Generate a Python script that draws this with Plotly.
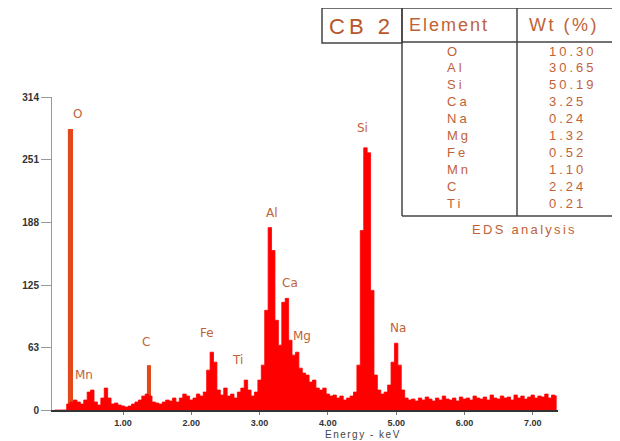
import plotly.graph_objects as go

# EDS spectrum, counts per 0.05 keV channel
CHANNEL_KEV = 0.05
counts = [
    0, 0, 0, 0,
    6, 8, 10, 8, 6, 10,
    18, 20, 8, 5, 12, 22, 12, 6, 7, 5,
    4, 3, 4, 6, 8, 10, 14, 16, 14, 8,
    7, 6, 8, 10, 9, 12, 8, 12, 16, 14,
    10, 12, 16, 14, 18, 40, 58, 48, 20, 15,
    22, 14, 16, 12, 18, 22, 30, 20, 14, 18,
    30, 45, 100, 183, 160, 90, 65, 108, 112, 70,
    55, 58, 42, 37, 35, 28, 30, 22, 20, 22,
    16, 14, 15, 12, 14, 10, 12, 14, 18, 45,
    180, 263, 258, 120, 35, 20, 16, 18, 25, 48,
    67, 45, 20, 12, 10, 11, 9, 12, 10, 13,
    11, 9, 12, 10, 14, 11, 10, 12, 9, 13,
    11, 12, 10, 14, 12, 11, 13, 10, 15, 12,
    11, 14, 12, 13, 10, 15, 12, 14, 11, 13,
    15, 12, 14, 13, 16, 12, 15, 14,
]
energy = [round(i * CHANNEL_KEV, 2) for i in range(len(counts))]

# single lines drawn in orange
line_energy = [0.23, 1.38]
line_counts = [282, 45]

# peak labels
peak_names = ["O", "Mn", "C", "Fe", "Ti", "Al", "Ca", "Mg", "Si", "Na"]
peak_label_kev = [0.33, 0.43, 1.34, 2.23, 2.68, 3.18, 3.44, 3.62, 4.50, 5.03]
peak_label_cts = [297, 35, 68, 77, 50, 198, 127, 74, 283, 82]

# composition table
sample_name = "CB 2"
table_elements = ["O", "Al", "Si", "Ca", "Na", "Mg", "Fe", "Mn", "C", "Ti"]
table_wt = ["10.30", "30.65", "50.19", "3.25", "0.24", "1.32", "0.52", "1.10", "2.24", "0.21"]

y_ticks = [0, 63, 125, 188, 251, 314]
x_ticks = [1, 2, 3, 4, 5, 6, 7]
x_ticktext = ["1.00", "2.00", "3.00", "4.00", "5.00", "6.00", "7.00"]

RED = "#ff0000"
ORANGE = "#e2481a"
BROWN = "#bf6238"
BORDER = "#444444"

# plot area in screen pixels (page has an 8px body margin)
OFF = 8
PL, PR, PT, PB = 52, 558, 97, 410


def fx(px):
    return (px - PL) / (PR - PL)


def fy(py):
    return (PB - py) / (PB - PT)


def spaced(text, sp):
    return '<span style="letter-spacing:%spx">%s</span>' % (sp, text)


def left_text(px, py, text, size, color=BROWN, sp=0):
    return dict(x=fx(px), y=fy(py), xref="paper", yref="paper",
                text=spaced(text, sp) if sp else text, showarrow=False,
                xanchor="left", yanchor="middle", align="left",
                font=dict(family="Liberation Sans", size=size, color=color))


fig = go.Figure()
fig.add_trace(go.Bar(x=line_energy, y=line_counts, width=[0.075, 0.06],
                     marker=dict(color=ORANGE, line=dict(width=0)), showlegend=False))
fig.add_trace(go.Scatter(x=energy, y=counts, mode="lines", line_shape="hvh",
                         line=dict(color=RED, width=0.8), fill="tozeroy",
                         fillcolor=RED, showlegend=False))

ann = []
for name, xk, yc in zip(peak_names, peak_label_kev, peak_label_cts):
    ann.append(dict(x=xk, y=yc, xref="x", yref="y", text=name, showarrow=False,
                    font=dict(family="DejaVu Sans", size=12, color=BROWN)))

ann.append(left_text(323, 434, "Energy - keV", 10, "#444", 1.5))

# table texts
ann.append(left_text(327, 26, sample_name, 22, "#b8552a", 4))
ann.append(left_text(407, 25, "Element", 18, BROWN, 2))
ann.append(left_text(527, 25, "Wt (%)", 18, BROWN, 2.5))
for k, (el, wt) in enumerate(zip(table_elements, table_wt)):
    ry = 51 + 16.9 * k
    ann.append(left_text(445, ry, el, 13, BROWN, 3))
    ann.append(left_text(547, ry, wt, 13, BROWN, 3))
ann.append(left_text(470, 229, "EDS analysis", 13, BROWN, 2.3))

ln = dict(color=BORDER, width=1.5)
shapes = [
    dict(type="rect", xref="paper", yref="paper", x0=fx(322), x1=fx(402), y0=fy(43), y1=fy(8), line=ln),
    dict(type="rect", xref="paper", yref="paper", x0=fx(402), x1=fx(618), y0=fy(42), y1=fy(8), line=ln),
    dict(type="line", xref="paper", yref="paper", x0=fx(517), x1=fx(517), y0=fy(216), y1=fy(8), line=ln),
    dict(type="line", xref="paper", yref="paper", x0=fx(402), x1=fx(402), y0=fy(216), y1=fy(42), line=ln),
    dict(type="line", xref="paper", yref="paper", x0=fx(402), x1=fx(620), y0=fy(216), y1=fy(216), line=ln),
]

fig.update_layout(
    width=620 - OFF, height=441 - OFF,
    margin=dict(l=PL - OFF, r=620 - PR, t=PT - OFF, b=441 - PB),
    plot_bgcolor="white", paper_bgcolor="white",
    barmode="overlay", showlegend=False,
    annotations=ann, shapes=shapes,
    xaxis=dict(range=[-0.04, 7.37], showline=True, linecolor="#333", linewidth=2,
               ticks="outside", ticklen=3, tickcolor="#777", tickvals=x_ticks, ticktext=x_ticktext,
               tickfont=dict(family="Liberation Sans", size=9, color="#333", weight="bold"),
               showgrid=False, zeroline=False),
    yaxis=dict(range=[0, 314], showline=True, linecolor="#999", linewidth=1,
               ticks="outside", ticklen=10, tickcolor="#999", tickvals=y_ticks,
               tickfont=dict(family="Liberation Sans", size=10, color="#333", weight="bold"),
               showgrid=False, zeroline=False),
)

fig.write_html("out.html")
